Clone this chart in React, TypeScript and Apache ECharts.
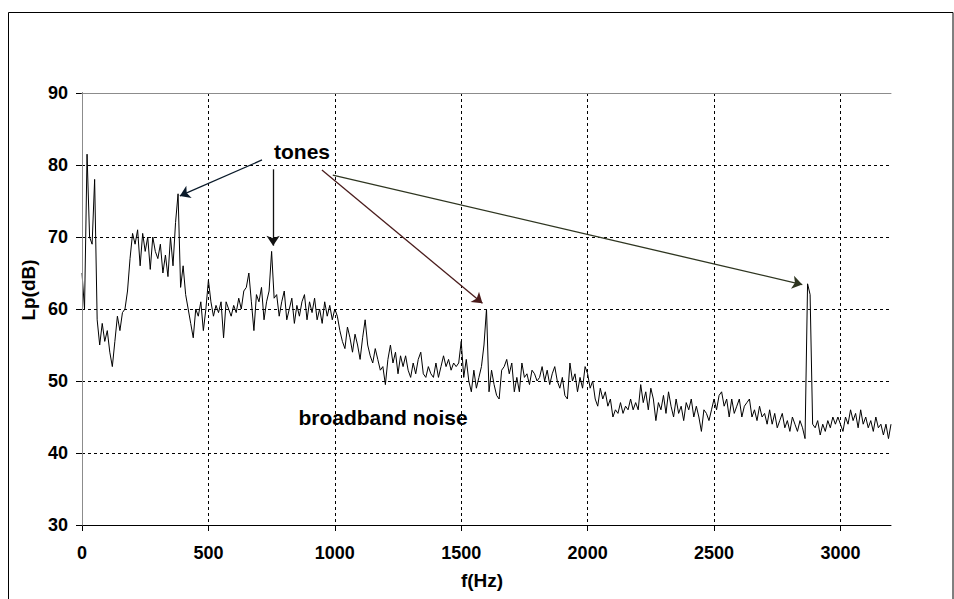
import React, { useEffect, useRef } from "react";
import * as echarts from "echarts";

// Sound pressure level Lp (dB) sampled every 10 Hz
const freqStep = 10;
const lp0to500 = [
  65, 60, 81.5, 70, 69, 78, 58.5, 55, 58, 55.5,
  57, 54, 52, 55.5, 59, 57, 59.5, 60, 62.5, 67,
  70.5, 69, 71, 66, 70.5, 68, 70, 65.5, 70, 68,
  67, 69, 65, 67.5, 64.5, 70, 66, 72, 76, 63,
  66, 62, 60, 58, 56, 60, 59, 61, 57, 60,
  64,
];
const lp510to1000 = [
  61, 59, 60.5, 59.5, 61, 56, 61, 60, 59, 60.5,
  59.5, 61.5, 60, 62.5, 63, 65, 61, 57, 62, 61,
  63, 58.5, 61, 62.5, 68, 61.5, 62, 59, 61, 62.5,
  58.5, 60, 61.5, 58, 60.5, 59, 61, 62, 58.5, 61,
  59.5, 61.5, 58.5, 60, 58, 61, 59, 60.5, 58.5, 60,
];
const lp1010to1500 = [
  59, 57, 55.5, 54.5, 57.5, 56, 54, 56.5, 55, 53,
  56, 58.5, 55, 53.5, 52.5, 54.5, 53, 51.5, 52, 49.5,
  53, 55, 52.5, 54, 51, 53.5, 52, 53.5, 51.5, 50.5,
  52.5, 51, 53, 54, 51, 50.5, 52, 51, 50.5, 52.5,
  50.5, 52, 53.5, 52, 53, 51.5, 52.5, 52, 52.5, 55.5,
];
const lp1510to2000 = [
  50.5, 53, 50, 48.5, 51.5, 49, 50.5, 52, 55, 60,
  48.5, 51.5, 49.5, 48, 47.5, 51.5, 52, 53, 51, 52.5,
  48.5, 50.5, 48.5, 52.5, 50.5, 51, 49.5, 51.5, 51, 50,
  50.5, 52, 50, 51.5, 49.5, 51, 52, 50, 49, 50.5,
  48, 47.5, 52.5, 50, 51, 48.5, 50.5, 49, 52, 51,
];
const lp2010to2500 = [
  49, 50, 47.5, 46.5, 49, 47.5, 48.5, 46.5, 47.5, 45,
  46, 45.5, 47, 45.5, 46.5, 46, 47.5, 46, 47, 46,
  49.5, 47, 48.5, 46, 49, 47.5, 44.5, 47, 46, 48,
  45.5, 48.5, 46.5, 45, 47.5, 45.5, 46.5, 44.5, 47, 46,
  47.5, 45, 46.5, 45, 43, 46, 45.5, 44.5, 46, 47.5,
];
const lp2510to3200 = [
  46, 48, 48.5, 46.5, 47.5, 45, 47.5, 45.5, 46.5, 47.5,
  45, 46.5, 47, 47.5, 45, 46, 44.5, 46.5, 45, 45.5,
  44, 46, 44, 45.5, 43.5, 44.5, 45.5, 43.5, 44.5, 43,
  45, 44, 43, 44.5, 43.5, 42, 63.5, 62, 44, 43.5,
  44.5, 42.5, 44, 43, 44.5, 43.5, 45, 44, 45, 44,
  43, 45, 44, 46, 44.5, 45.5, 43.5, 46, 44, 45,
  43.5, 44.5, 43, 45, 43.5, 44, 42.5, 44, 42, 44,
];

const xTicks = [0, 500, 1000, 1500, 2000, 2500, 3000];
const yTicks = [30, 40, 50, 60, 70, 80, 90];

// Annotation arrows (data coordinates): start points and end points
const arrowFrom = [
  [712, 80.7],
  [756, 79.4],
  [949, 79.3],
  [992, 78.6],
];
const arrowTo = [
  [387, 75.7],
  [756, 68.8],
  [1584, 60.8],
  [2849, 63.4],
];
const arrowColors = ["#0a1a2a", "#111111", "#4a1c1c", "#2e3520"];

const FONT = "Arial, 'Liberation Sans', Helvetica, sans-serif";

export default function App() {
  const ref = useRef<HTMLDivElement>(null);
  useEffect(() => {
    document.body.style.margin = "0";
    if (!ref.current) return;
    const chart = echarts.init(ref.current, null, { renderer: "svg" });
    const values = [
      ...lp0to500,
      ...lp510to1000,
      ...lp1010to1500,
      ...lp1510to2000,
      ...lp2010to2500,
      ...lp2510to3200,
    ];
    const spectrum = values.map((v, i) => [i * freqStep, v]);
    const arrows = arrowFrom.map((a, i) => [
      { coord: a, lineStyle: { color: arrowColors[i], width: 1.3, type: "solid" } },
      { coord: arrowTo[i] },
    ]);
    const labelStyle = {
      color: "#000",
      fontFamily: FONT,
      fontWeight: "bold" as const,
      fontSize: 18,
      formatter: (v: number) => String(v),
    };
    chart.setOption({
      animation: false,
      backgroundColor: "#fff",
      grid: { left: 82, top: 93, width: 809, height: 432 },
      xAxis: [
        {
          type: "value",
          min: 0,
          max: 3200,
          interval: 500,
          axisLine: { show: true, onZero: false, lineStyle: { color: "#000", width: 1 } },
          axisTick: { show: true, length: 6, lineStyle: { color: "#000" }, customValues: xTicks },
          axisLabel: { ...labelStyle, margin: 19, customValues: xTicks },
          splitLine: {
            show: true,
            lineStyle: { color: "#000", type: [3, 3], width: 1 },
          },
        },
        {
          type: "value",
          position: "top",
          min: 0,
          max: 3200,
          z: 5,
          axisLine: { show: true, lineStyle: { color: "#8c8c8c", width: 1 } },
          axisTick: { show: false },
          axisLabel: { show: false },
          splitLine: { show: false },
        },
      ],
      yAxis: [
        {
          type: "value",
          min: 30,
          max: 90,
          interval: 10,
          axisLine: { show: true, onZero: false, lineStyle: { color: "#000", width: 1 } },
          axisTick: { show: true, length: 6, lineStyle: { color: "#000" }, customValues: yTicks },
          axisLabel: { ...labelStyle, margin: 14, customValues: yTicks },
          splitLine: {
            show: true,
            lineStyle: { color: "#000", type: [3, 3], width: 1 },
          },
        },
        {
          type: "value",
          position: "right",
          min: 30,
          max: 90,
          z: 5,
          axisLine: { show: true, lineStyle: { color: "#8c8c8c", width: 1 } },
          axisTick: { show: false },
          axisLabel: { show: false },
          splitLine: { show: false },
        },
      ],
      series: [
        {
          type: "line",
          data: spectrum,
          showSymbol: false,
          symbol: "none",
          lineStyle: { color: "#000", width: 1 },
          z: 3,
          markLine: {
            silent: true,
            symbol: ["none", "arrow"],
            symbolSize: 10,
            label: { show: false },
            data: arrows,
          },
        },
      ],
      graphic: [
        {
          type: "rect",
          shape: { x: 8.5, y: 12.5, width: 944.5, height: 700 },
          style: { fill: "none", stroke: "#000", lineWidth: 1 },
          silent: true,
        },
        {
          type: "text",
          x: 302,
          y: 151,
          style: {
            text: "tones",
            font: `bold 21px ${FONT}`,
            fill: "#000",
            align: "center",
            verticalAlign: "middle",
          },
        },
        {
          type: "text",
          x: 383,
          y: 417,
          style: {
            text: "broadband noise",
            font: `bold 21px ${FONT}`,
            fill: "#000",
            align: "center",
            verticalAlign: "middle",
          },
        },
        {
          type: "text",
          x: 482,
          y: 580,
          style: {
            text: "f(Hz)",
            font: `bold 19px ${FONT}`,
            fill: "#000",
            align: "center",
            verticalAlign: "middle",
          },
        },
        {
          type: "text",
          x: 28,
          y: 290,
          rotation: Math.PI / 2,
          style: {
            text: "Lp(dB)",
            font: `bold 19px ${FONT}`,
            fill: "#000",
            align: "center",
            verticalAlign: "middle",
          },
        },
      ],
    });
    return () => chart.dispose();
  }, []);
  return <div ref={ref} style={{ width: 954, height: 599 }} />;
}
